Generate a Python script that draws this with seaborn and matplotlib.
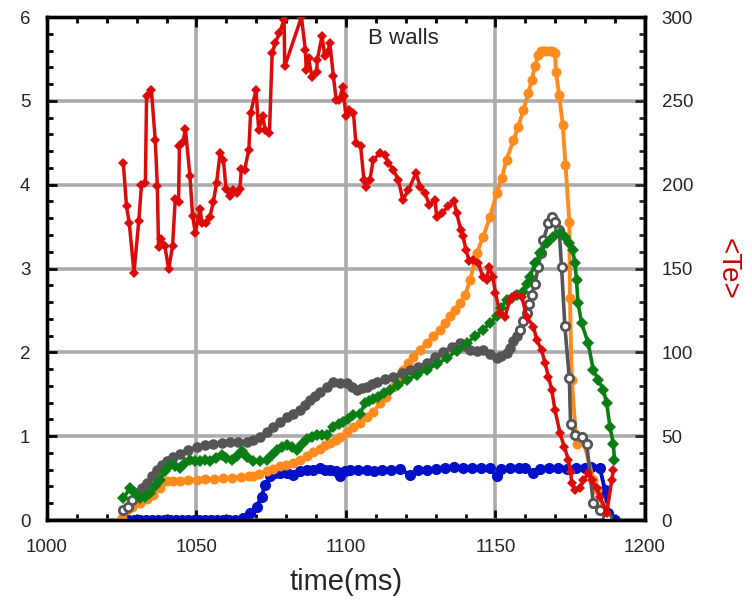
import numpy as np
import matplotlib
matplotlib.use("Agg")
import matplotlib.pyplot as plt
from matplotlib.ticker import MultipleLocator
import seaborn as sns

# ---------------- data ----------------
red_t = [1025.5, 1026.6, 1027.5, 1029.1, 1030.7, 1031.6, 1032.9, 1033.3, 1034.9, 1036.2,
         1036.9, 1037.3, 1038.2, 1039.4, 1040.7, 1042.0, 1042.9, 1044.0, 1044.3, 1045.4,
         1046.3, 1047.8, 1048.7, 1049.6, 1051.2, 1051.8, 1053.2, 1054.5, 1055.6, 1056.7,
         1057.9, 1059.0, 1059.9, 1061.2, 1062.3, 1063.4, 1064.5, 1065.0, 1066.1, 1067.5,
         1068.1, 1069.9, 1070.8, 1072.1, 1073.0, 1074.4, 1075.3, 1076.4, 1077.7, 1079.3,
         1079.5, 1085.1, 1086.4, 1086.7, 1087.5, 1088.6, 1090.2, 1090.4, 1092.0, 1092.9,
         1093.8, 1094.6, 1095.8, 1096.7, 1097.8, 1098.9, 1099.3, 1100.0, 1100.9, 1102.5,
         1103.3, 1104.9, 1106.0, 1106.7, 1108.0, 1109.1,
         1111.4, 1113.0, 1114.2, 1115.8, 1117.5, 1119.0, 1120.9, 1123.4, 1124.8, 1126.4,
         1127.9, 1129.8, 1130.3, 1132.0, 1134.2, 1136.1, 1137.0, 1138.4, 1139.2, 1140.1,
         1141.3, 1142.6, 1144.3, 1145.7, 1147.0, 1147.9, 1149.1, 1150.0,
         1151.5, 1153.2, 1154.8, 1156.5, 1158.8, 1160.4, 1162.7, 1163.8, 1165.4, 1166.6,
         1167.7, 1168.8, 1169.9, 1171.6, 1173.0, 1174.4, 1175.1, 1175.5, 1176.6, 1178.3,
         1179.4, 1181.0, 1182.2, 1183.8, 1185.0, 1187.2, 1188.9, 1189.4]
red_te = [213.2, 187.0, 177.4, 147.6, 178.6, 199.7, 201.3, 252.6, 256.6, 226.8,
          199.3, 163.1, 167.5, 163.5, 149.6, 163.5, 191.4, 189.4, 222.8, 225.2,
          233.1, 205.3, 181.4, 171.1, 185.4, 177.4, 177.4, 181.0, 189.4, 200.9,
          218.8, 214.8, 197.3, 193.0, 197.0, 195.0, 197.3, 209.3, 208.9, 220.8,
          242.7, 256.6, 232.7, 240.7, 232.7, 230.7, 278.5, 284.8, 290.4, 298.4,
          270.5, 300.0, 280.5, 268.5, 275.5, 264.2, 267.5, 274.5, 288.8, 276.5,
          278.5, 284.4, 264.6, 250.6, 250.6, 258.2, 252.6, 240.7, 244.7, 242.7,
          224.8, 222.8, 202.9, 198.9, 202.9, 214.8,
          218.8, 217.8, 212.8, 208.9, 202.9, 191.0, 196.9, 206.9, 198.9, 194.9,
          188.0, 191.0, 181.0, 183.0, 187.0, 190.0, 183.0, 173.1, 169.1, 161.1,
          154.2, 155.2, 153.2, 145.2, 143.2, 151.2, 145.2, 135.3,
          123.3, 121.3, 131.3, 134.2, 133.3, 121.3, 115.4, 107.4, 101.4, 93.5,
          85.5, 77.6, 65.6, 51.7, 43.7, 35.8, 28.8, 21.9, 17.9, 18.9,
          23.9, 27.8, 23.9, 18.9, 13.9, 3.9, 23.9, 29.8]

orange_t = [1025.0, 1026.6, 1028.5, 1031.1, 1033.5, 1035.6, 1037.8, 1040.0, 1042.0, 1044.5,
            1047.0, 1050.1, 1053.0, 1056.0, 1059.0, 1062.0, 1065.0, 1067.5, 1069.0, 1071.0,
            1073.5, 1075.5, 1077.9, 1080.0, 1082.4, 1084.5, 1086.8, 1089.0, 1091.3, 1093.0,
            1094.6, 1096.5, 1098.0, 1100.5, 1102.5, 1104.7, 1106.9, 1109.1, 1111.4, 1113.5,
            1115.8, 1117.5, 1119.2, 1120.8, 1122.5, 1124.8, 1127.0, 1129.2, 1131.4, 1133.0,
            1134.8, 1136.5, 1138.1, 1139.8, 1141.5, 1143.7, 1145.9, 1148.2, 1150.4, 1152.1,
            1153.7, 1156.0, 1157.6, 1159.3, 1161.0, 1162.1, 1163.2, 1164.3, 1165.2, 1166.0,
            1167.0, 1168.2, 1169.0, 1169.9, 1170.2, 1171.3, 1172.5, 1173.4, 1174.7, 1174.9,
            1175.5, 1177.1, 1178.3, 1179.4, 1182.7, 1183.8, 1186.1, 1187.2]
orange_v = [0.03, 0.12, 0.16, 0.20, 0.25, 0.30, 0.38, 0.46, 0.47, 0.46,
            0.48, 0.48, 0.49, 0.49, 0.50, 0.50, 0.51, 0.52, 0.52, 0.55,
            0.58, 0.61, 0.64, 0.66, 0.68, 0.72, 0.76, 0.81, 0.85, 0.89,
            0.92, 0.96, 0.99, 1.05, 1.11, 1.16, 1.23, 1.29, 1.39, 1.47,
            1.59, 1.68, 1.79, 1.87, 1.95, 2.03, 2.11, 2.19, 2.27, 2.35,
            2.43, 2.51, 2.59, 2.68, 2.86, 3.18, 3.38, 3.62, 3.90, 4.08,
            4.30, 4.53, 4.69, 4.89, 5.09, 5.25, 5.41, 5.55, 5.59, 5.59,
            5.59, 5.59, 5.59, 5.57, 5.35, 5.07, 4.71, 4.24, 3.56, 2.65,
            1.67, 0.91, 0.95, 0.95, 0.48, 0.36, 0.16, 0.04]

gray_t = [1025.5, 1027.2, 1028.5, 1030.0, 1031.7, 1033.3, 1035.0, 1036.7, 1038.3, 1040.0,
          1042.2, 1044.5, 1047.0, 1050.1, 1053.0, 1055.6, 1058.5, 1061.2, 1064.0, 1066.8,
          1069.0, 1071.2, 1073.5, 1075.7, 1078.0, 1080.2, 1082.4, 1084.6, 1086.3, 1088.0,
          1089.7, 1091.3, 1093.5, 1095.8, 1098.0, 1100.2, 1102.0, 1103.6, 1105.2, 1106.9,
          1108.6, 1110.3, 1113.0, 1115.8, 1118.6, 1121.4, 1124.2, 1127.0, 1129.8, 1132.5,
          1135.3, 1138.1, 1139.8, 1141.5, 1143.7, 1145.9, 1148.2, 1150.4, 1152.0, 1153.7,
          1155.0, 1156.0, 1157.1, 1158.2, 1159.3, 1160.4, 1161.3, 1162.1, 1163.2, 1164.3,
          1165.2, 1166.0, 1167.7, 1168.8, 1169.9, 1171.3, 1172.1, 1173.2, 1174.7, 1175.1,
          1176.6, 1178.8, 1180.5, 1182.7, 1184.9, 1187.2]
gray_v = [0.12, 0.16, 0.24, 0.32, 0.38, 0.44, 0.52, 0.60, 0.66, 0.70,
          0.75, 0.79, 0.83, 0.87, 0.89, 0.91, 0.92, 0.93, 0.93, 0.93,
          0.95, 0.99, 1.05, 1.11, 1.17, 1.23, 1.27, 1.31, 1.37, 1.43,
          1.48, 1.53, 1.59, 1.65, 1.64, 1.63, 1.59, 1.55, 1.57, 1.59,
          1.62, 1.65, 1.68, 1.71, 1.75, 1.79, 1.83, 1.87, 1.94, 2.01,
          2.06, 2.11, 2.07, 2.03, 2.02, 2.03, 1.98, 1.93, 1.96, 1.99,
          2.05, 2.13, 2.20, 2.27, 2.37, 2.47, 2.58, 2.69, 2.82, 3.02,
          3.18, 3.34, 3.54, 3.62, 3.56, 3.46, 3.02, 2.31, 1.69, 1.15,
          1.01, 0.99, 0.91, 0.20, 0.12, 0.02]

green_t = [1025.5, 1027.8, 1029.5, 1031.1, 1032.8, 1034.5, 1036.2, 1037.8, 1039.5, 1041.1,
           1042.8, 1044.5, 1046.2, 1047.8, 1049.5, 1051.2, 1052.8, 1054.5, 1056.5, 1058.4,
           1060.0, 1061.8, 1063.5, 1065.1, 1067.0, 1069.0, 1071.2, 1073.5, 1075.2, 1076.8,
           1078.5, 1080.2, 1081.8, 1083.5, 1085.2, 1086.8, 1088.5, 1090.2, 1091.9, 1093.5,
           1095.8, 1097.5, 1099.1, 1100.8, 1102.5, 1104.7, 1106.4, 1107.8, 1109.1, 1110.8,
           1112.7, 1114.7, 1117.5, 1120.3, 1123.6, 1127.0, 1130.3, 1133.7, 1137.0, 1140.4,
           1143.1, 1145.9, 1148.1, 1150.4, 1152.0, 1153.7, 1155.4, 1157.1, 1159.3, 1160.4,
           1161.5, 1163.2, 1164.9, 1167.1, 1169.3, 1171.6, 1173.2, 1174.7, 1175.8, 1176.6,
           1177.1, 1177.6, 1178.8, 1181.0, 1182.7, 1184.4, 1186.1, 1187.2, 1188.3, 1189.4,
           1189.8]
green_v = [0.26, 0.38, 0.32, 0.26, 0.28, 0.32, 0.40, 0.48, 0.58, 0.66,
           0.65, 0.62, 0.68, 0.72, 0.70, 0.70, 0.72, 0.70, 0.74, 0.78,
           0.74, 0.72, 0.76, 0.82, 0.75, 0.70, 0.71, 0.72, 0.78, 0.84,
           0.87, 0.90, 0.87, 0.84, 0.91, 0.97, 0.99, 1.01, 1.01, 1.01,
           1.11, 1.14, 1.17, 1.21, 1.25, 1.27, 1.39, 1.42, 1.44, 1.47,
           1.51, 1.55, 1.61, 1.67, 1.73, 1.79, 1.86, 1.93, 2.02, 2.11,
           2.19, 2.27, 2.35, 2.43, 2.53, 2.63, 2.65, 2.69, 2.72, 2.82,
           2.90, 3.06, 3.18, 3.30, 3.38, 3.42, 3.38, 3.30, 3.22, 3.06,
           2.86, 2.59, 2.35, 2.11, 1.79, 1.67, 1.55, 1.39, 1.11, 0.91,
           0.72]

blue_t = [1025.0, 1027.0, 1029.0, 1031.0, 1033.0, 1035.0, 1037.0, 1039.0, 1041.0, 1043.0,
          1045.0, 1047.0, 1049.0, 1051.0, 1053.0, 1055.0, 1057.0, 1059.0, 1061.0, 1063.0,
          1065.5, 1067.9, 1070.1, 1071.8, 1072.9, 1074.6, 1076.2, 1077.9, 1080.2, 1082.4,
          1084.6, 1086.8, 1089.0, 1091.3, 1093.0, 1094.6, 1096.5, 1098.0, 1099.7, 1101.3,
          1104.0, 1106.9, 1109.5, 1112.0, 1115.0, 1118.0, 1121.4, 1124.0, 1127.0, 1130.0,
          1133.0, 1136.0, 1139.0, 1142.0, 1145.0, 1148.0, 1150.4, 1152.0, 1155.0, 1158.0,
          1160.0, 1162.7, 1165.0, 1168.0, 1171.0, 1174.0, 1177.0, 1180.0, 1182.0, 1184.9,
          1186.6, 1187.7, 1190.0]
blue_v = [0.0, 0.0, 0.0, 0.0, 0.0, 0.0, 0.0, 0.0, 0.0, 0.0,
          0.0, 0.0, 0.0, 0.0, 0.0, 0.0, 0.0, 0.0, 0.0, 0.0,
          0.02, 0.08, 0.16, 0.28, 0.42, 0.52, 0.56, 0.56, 0.56, 0.54,
          0.58, 0.60, 0.60, 0.62, 0.60, 0.60, 0.58, 0.52, 0.58, 0.60,
          0.60, 0.60, 0.58, 0.60, 0.60, 0.61, 0.54, 0.60, 0.60, 0.61,
          0.62, 0.63, 0.62, 0.62, 0.62, 0.62, 0.53, 0.61, 0.62, 0.62,
          0.62, 0.56, 0.61, 0.62, 0.62, 0.61, 0.62, 0.62, 0.63, 0.62,
          0.36, 0.08, 0.0]

x_ticks = [1000, 1050, 1100, 1150, 1200]
left_ticks = [0, 1, 2, 3, 4, 5, 6]
right_ticks = [0, 50, 100, 150, 200, 250, 300]

# ---------------- style ----------------
sns.set_style("white")
plt.rcParams["font.family"] = ["Liberation Sans", "DejaVu Sans"]

C_RED = "#dd0a0a"
C_ORANGE = "#ff8a1e"
C_GRAY = "#555555"
C_GREEN = "#0a7d14"
C_BLUE = "#0010c8"

fig = plt.figure(figsize=(7.52, 6.08), dpi=100)
ax = fig.add_axes([0.0625, 0.1447, 0.7952, 0.8273])
ax2 = ax.twinx()

common = dict(estimator=None, sort=False, legend=False)

sns.lineplot(x=blue_t, y=blue_v, ax=ax, color=C_BLUE, lw=2.8, marker="o",
             markersize=8.0, markeredgewidth=0, zorder=3, **common)
sns.lineplot(x=orange_t, y=orange_v, ax=ax, color=C_ORANGE, lw=2.8, marker="o",
             markersize=7.2, markeredgewidth=0, zorder=4, **common)

# gray: line plus markers (filled in the dense middle part, hollow elsewhere)
sns.lineplot(x=gray_t, y=gray_v, ax=ax, color=C_GRAY, lw=2.6, zorder=5, **common)
gt = np.array(gray_t)
gv = np.array(gray_v)
dense = (gt > 1029) & (gt < 1158)
ax.plot(gt[dense], gv[dense], "o", color=C_GRAY, markersize=7.6, mew=0, zorder=5)
ax.plot(gt[~dense], gv[~dense], "o", mfc="white", mec=C_GRAY, markersize=6.0,
        mew=2.0, zorder=5)

sns.lineplot(x=green_t, y=green_v, ax=ax, color=C_GREEN, lw=2.6, marker="D",
             markersize=6.2, markeredgewidth=0, zorder=6, **common)

sns.lineplot(x=red_t, y=red_te, ax=ax2, color=C_RED, lw=2.5, marker="D",
             markersize=5.4, markeredgewidth=0, zorder=7, **common)

# ---------------- axes ----------------
ax.set_xlim(1000, 1200)
ax.set_ylim(0, 6)
ax2.set_ylim(0, 300)
ax.set_xticks(x_ticks)
ax.set_yticks(left_ticks)
ax2.set_yticks(right_ticks)
ax.xaxis.set_minor_locator(MultipleLocator(10))
ax.yaxis.set_minor_locator(MultipleLocator(0.2))
ax2.yaxis.set_minor_locator(MultipleLocator(10))

ax.set_axisbelow(True)
ax.grid(True, which="major", color="#ababab", lw=2.6, ls="-")

ax.tick_params(axis="both", which="major", direction="in", length=7, width=2.0,
               labelsize=13.5, color="black", pad=12)
ax.tick_params(axis="both", which="minor", direction="in", length=4, width=2.0,
               color="black")
ax.tick_params(axis="x", which="both", top=True, bottom=True)
ax.tick_params(axis="y", which="both", left=True, right=False)
ax.tick_params(axis="x", which="major", pad=14)
ax2.tick_params(axis="y", which="major", direction="in", length=7, width=2.0,
                labelsize=13.5, pad=12)
ax2.tick_params(axis="y", which="minor", direction="in", length=4, width=2.0)

for a in (ax, ax2):
    for s in a.spines.values():
        s.set_linewidth(2.4)
        s.set_color("black")
        s.set_visible(True)

ax.set_xlabel("time(ms)", fontsize=21, labelpad=8)
ax.set_ylabel("")
ax2.set_ylabel("<Te>", fontsize=20, color="#cc0000", rotation=270, labelpad=34)

ax.text(1107.4, 5.68, "B walls", fontsize=16, va="baseline", ha="left", zorder=10)

fig.savefig("out.png", dpi=100)
